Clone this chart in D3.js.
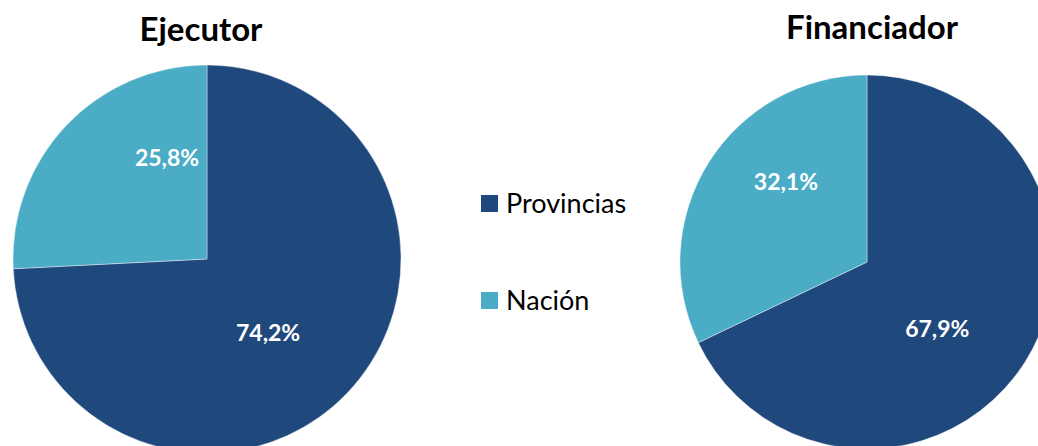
<!DOCTYPE html>
<html>
<head>
<meta charset="utf-8">
<script src="https://cdn.jsdelivr.net/npm/d3@7"></script>
<style>
  body { margin: 0; background: #fff; }
  svg { display: block; font-family: Lato, "Open Sans", sans-serif; }
</style>
</head>
<body>
<section></section>
<script>
const categories = ["Provincias", "Nación"];
const titles = ["Ejecutor", "Financiador"];
const ejecutorValues = [74.2, 25.8];
const financiadorValues = [67.9, 32.1];
const colors = ["#1f497d", "#4bacc6"];

const svg = d3
  .select("section")
  .append("svg")
  .attr("width", 1038)
  .attr("height", 446);

// pie layouts: center, radius, title position, label placement (angle in degrees, radius share)
const charts = [
  {
    title: titles[0],
    values: ejecutorValues,
    cx: 207, cy: 259, r: 194,
    titleX: 201, titleY: 41,
    labels: [[140.5, 0.495], [338.4, 0.56]],
  },
  {
    title: titles[1],
    values: financiadorValues,
    cx: 867, cy: 262, r: 187,
    titleX: 872, titleY: 39,
    labels: [[133.7, 0.52], [314.7, 0.61]],
  },
];

const pie = d3.pie().sort(null).value((d) => d);
const fmt = (v) => v.toFixed(1).replace(".", ",") + "%";

charts.forEach((c) => {
  svg
    .append("text")
    .attr("x", c.titleX)
    .attr("y", c.titleY)
    .attr("text-anchor", "middle")
    .style("font-size", "33px")
    .style("font-weight", "bold")
    .style("fill", "#000")
    .text(c.title);

  const g = svg.append("g").attr("transform", `translate(${c.cx}, ${c.cy})`);
  const arc = d3.arc().innerRadius(0).outerRadius(c.r);

  g.selectAll("path")
    .data(pie(c.values))
    .enter()
    .append("path")
    .attr("d", arc)
    .style("fill", (d, i) => colors[i])
    .style("stroke", "#fff")
    .style("stroke-width", 0.4);

  g.selectAll("text")
    .data(pie(c.values))
    .enter()
    .append("text")
    .attr("transform", (d, i) => {
      const a = (c.labels[i][0] * Math.PI) / 180;
      const rr = c.r * c.labels[i][1];
      return `translate(${rr * Math.sin(a)}, ${-rr * Math.cos(a)})`;
    })
    .attr("text-anchor", "middle")
    .attr("dy", "0.35em")
    .style("font-size", "23px")
    .style("font-weight", "bold")
    .style("fill", "#fff")
    .text((d) => fmt(d.data));
});

// legend
const legend = svg.append("g").attr("transform", "translate(481, 195)");
const item = legend
  .selectAll("g")
  .data(categories)
  .enter()
  .append("g")
  .attr("transform", (d, i) => `translate(0, ${i * 97})`);
item
  .append("rect")
  .attr("width", 17)
  .attr("height", 17)
  .style("fill", (d, i) => colors[i]);
item
  .append("text")
  .attr("x", 25)
  .attr("y", 18)
  .style("font-size", "27px")
  .style("fill", "#000")
  .text((d) => d);
</script>
</body>
</html>
